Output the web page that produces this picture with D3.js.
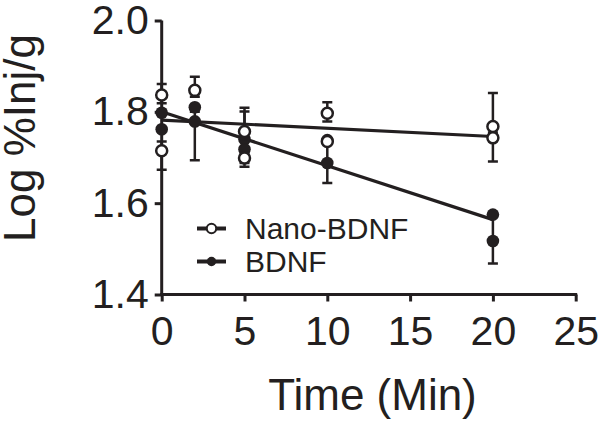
<!DOCTYPE html>
<html>
<head>
<meta charset="utf-8">
<script src="https://cdn.jsdelivr.net/npm/d3@7"></script>
<style>
  body { margin: 0; background: #fff; }
  text { font-family: "Liberation Sans", Arial, sans-serif; fill: #231f20; }
</style>
</head>
<body>
<div id="chart"></div>
<script>
(function(){

  let margin = { top: 20.5, left: 161.7, right: 24.3, bottom: 126.5 }
  let width = 600 - margin.left - margin.right
  let height = 421 - margin.top - margin.bottom

// Data, lo/hi = error bar ends, null when no bar shows

  let xTicks = [0, 5, 10, 15, 20, 25]
  let yTicks = [1.4, 1.6, 1.8, 2.0]

  // Nano-BDNF, open circles
  let nanoPoints = [
    { t: 0, v: 1.837, lo: 1.819, hi: 1.861 },
    { t: 0, v: 1.715, lo: 1.673, hi: 1.735 },
    { t: 2, v: 1.847, lo: 1.833, hi: 1.877 },
    { t: 5, v: 1.757, lo: 1.740, hi: 1.809 },
    { t: 5, v: 1.699, lo: 1.688, hi: 1.710 },
    { t: 10, v: 1.797, lo: 1.779, hi: 1.821 },
    { t: 10, v: 1.735, lo: null, hi: null },
    { t: 20, v: 1.768, lo: 1.743, hi: 1.841 },
    { t: 20, v: 1.743, lo: 1.691, hi: 1.755 }
  ]

  // BDNF, filled circles
  let bdnfPoints = [
    { t: 0, v: 1.798, lo: null, hi: null },
    { t: 0, v: 1.762, lo: null, hi: null },
    { t: 2, v: 1.810, lo: null, hi: null },
    { t: 2, v: 1.779, lo: 1.694, hi: 1.800 },
    { t: 5, v: 1.740, lo: null, hi: null },
    { t: 5, v: 1.718, lo: 1.680, hi: 1.801 },
    { t: 10, v: 1.738, lo: null, hi: null },
    { t: 10, v: 1.688, lo: 1.644, hi: 1.730 },
    { t: 20, v: 1.575, lo: null, hi: null },
    { t: 20, v: 1.517, lo: 1.468, hi: 1.575 }
  ]

  // fitted lines, values at t = 0 and t = 20
  let fitTimes = [0, 20]
  let nanoFit = [1.782, 1.746]
  let bdnfFit = [1.800, 1.564]

// Create SVG

  let svg = d3.select('#chart')
    .append('svg')
    .attr('width', 600)
    .attr('height', 421)

  let g = svg.append('g')
    .attr('transform', 'translate(' + margin.left + ',' + margin.top + ')')

// Scales

  let x = d3.scaleLinear().domain([0, 25]).range([0, width])
  let y = d3.scaleLinear().domain([1.4, 2.0]).range([height, 0])

// Axes

  let xAxis = d3.axisBottom(x).tickValues(xTicks).tickSize(7).tickPadding(14)
  let yAxis = d3.axisLeft(y).tickValues(yTicks).tickSize(7).tickPadding(6)
    .tickFormat(d3.format('.1f'))

  let gx = g.append('g')
    .attr('transform', 'translate(0,' + height + ')')
    .call(xAxis)
  let gy = g.append('g').call(yAxis)

  ;[gx, gy].forEach(function(a){
    a.selectAll('path, line').attr('stroke', '#231f20').attr('stroke-width', 3)
    a.select('.domain').attr('d', a === gx ? 'M0,0H' + width : 'M0,0V' + height)
    a.selectAll('text').style('font-size', '41px').attr('fill', '#231f20')
  })
  gx.select('.domain').attr('stroke-linecap', 'square')

// Fitted lines

  let line = d3.line()
    .x(function(d, i){ return x(fitTimes[i]) })
    .y(function(d){ return y(d) })

  ;[nanoFit, bdnfFit].forEach(function(f){
    g.append('path')
      .datum(f)
      .attr('d', line)
      .attr('fill', 'none')
      .attr('stroke', '#231f20')
      .attr('stroke-width', 3.2)
  })

// Error bars and points

  function drawSeries(data, open) {
    let s = g.append('g')
    s.selectAll('.bar')
      .data(data.filter(function(d){ return d.lo !== null }))
      .enter().append('path')
      .attr('d', function(d){
        let cx = x(d.t)
        return 'M' + cx + ',' + y(d.lo) + 'V' + y(d.hi) +
          'M' + (cx - 5) + ',' + y(d.lo) + 'H' + (cx + 5) +
          'M' + (cx - 5) + ',' + y(d.hi) + 'H' + (cx + 5)
      })
      .attr('stroke', '#231f20')
      .attr('stroke-width', 2.5)
      .attr('fill', 'none')
    s.selectAll('circle')
      .data(data)
      .enter().append('circle')
      .attr('cx', function(d){ return x(d.t) })
      .attr('cy', function(d){ return y(d.v) })
      .attr('r', open ? 5.5 : 6.3)
      .attr('fill', open ? 'white' : '#231f20')
      .attr('stroke', '#231f20')
      .attr('stroke-width', open ? 2.5 : 0)
  }

  drawSeries(bdnfPoints, false)
  drawSeries(nanoPoints, true)

// Legend

  let legend = [
    { label: 'Nano-BDNF', open: true },
    { label: 'BDNF', open: false }
  ]

  let lg = svg.selectAll('.legend')
    .data(legend)
    .enter().append('g')
    .attr('transform', function(d, i){ return 'translate(197,' + (228.5 + i * 33) + ')' })

  lg.append('line')
    .attr('x1', 0).attr('x2', 29)
    .attr('stroke', '#231f20').attr('stroke-width', 4)
  lg.append('circle')
    .attr('cx', 14.5)
    .attr('r', 4.7)
    .attr('fill', function(d){ return d.open ? 'white' : '#231f20' })
    .attr('stroke', '#231f20')
    .attr('stroke-width', function(d){ return d.open ? 2 : 0 })
  lg.append('text')
    .attr('x', 48)
    .attr('y', 10)
    .style('font-size', '30px')
    .text(function(d){ return d.label })

// Axis titles

  svg.append('text')
    .attr('x', 372.5)
    .attr('y', 410)
    .attr('text-anchor', 'middle')
    .style('font-size', '44px')
    .text('Time (Min)')

  svg.append('text')
    .attr('transform', 'translate(35,138) rotate(-90)')
    .attr('text-anchor', 'middle')
    .style('font-size', '44px')
    .text('Log %Inj/g')

})()
</script>
</body>
</html>
